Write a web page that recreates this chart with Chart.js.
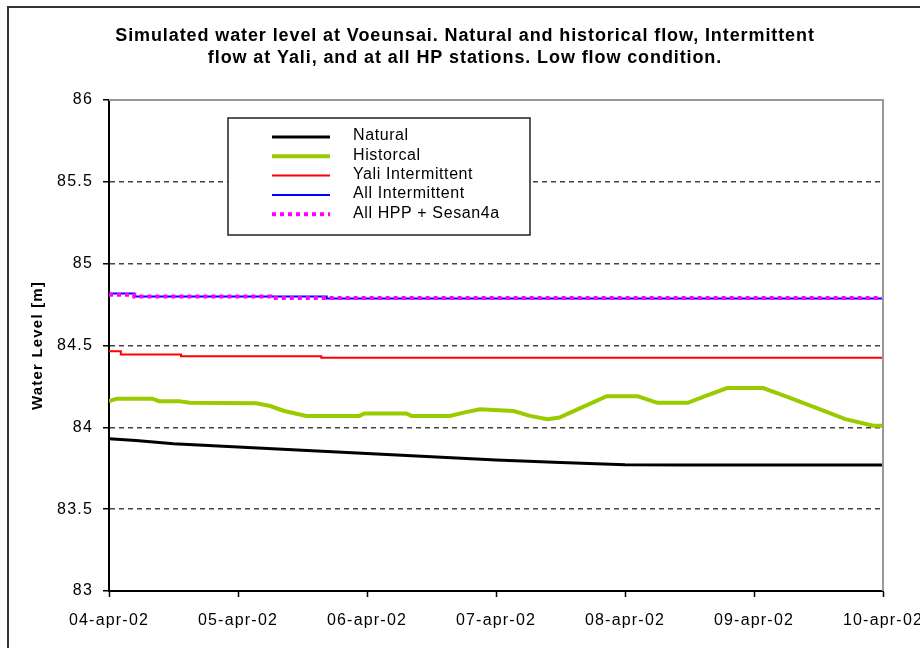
<!DOCTYPE html>
<html>
<head>
<meta charset="utf-8">
<script src="https://cdn.jsdelivr.net/npm/chart.js@4.4.0/dist/chart.umd.min.js"></script>
<style>
    html, body { margin: 0; padding: 0; background: #fff; }
    #wrap { width: 920px; height: 648px; position: relative; }
</style>
</head>
<body>
<div id="wrap"><canvas id="levelChart" width="920" height="648"></canvas></div>
<script>
// Tick labels (one per day, x in hours from 04-apr-02 00:00)
const dayLabels = ['04-apr-02', '05-apr-02', '06-apr-02', '07-apr-02', '08-apr-02', '09-apr-02', '10-apr-02'];
const levelTicks = [83, 83.5, 84, 84.5, 85, 85.5, 86];

const titleLines = [
    'Simulated water level at Voeunsai. Natural and historical flow, Intermittent',
    'flow at Yali, and at all HP stations. Low flow condition.'
];

// Natural
const naturalHours = [0, 5, 12, 24, 36, 48, 60, 72, 84, 96, 108, 120, 132, 144];
const naturalLevel = [83.93, 83.92, 83.90, 83.88, 83.86, 83.84, 83.82, 83.80, 83.785, 83.772, 83.77, 83.77, 83.77, 83.77];

// Historcal
const historicHours = [0, 1.5, 8, 9.3, 13, 15, 27.4, 30, 32.6, 36.7, 46.6, 47.5, 55.3, 56.3, 63.4, 66, 69, 75.3, 78.3, 81.6, 83.8, 88.5, 92.6, 98.4, 102, 107.7, 110.9, 115, 121.7, 126.7, 132.3, 137, 142.2, 144];
const historicLevel = [84.16, 84.175, 84.175, 84.16, 84.16, 84.15, 84.147, 84.13, 84.10, 84.07, 84.07, 84.085, 84.085, 84.07, 84.07, 84.09, 84.11, 84.10, 84.07, 84.05, 84.06, 84.13, 84.19, 84.19, 84.15, 84.15, 84.19, 84.24, 84.24, 84.18, 84.11, 84.05, 84.01, 84.01];

// Yali Intermittent
const yaliHours = [0, 2.2, 13.4, 39.5, 144];
const yaliLevel = [84.465, 84.445, 84.435, 84.425, 84.425];

// All Intermittent
const allIntHours = [0, 4.7, 40.5, 144];
const allIntLevel = [84.817, 84.80, 84.787, 84.787];

// All HPP + Sesan4a
const allHppHours = [0, 4.7, 30, 144];
const allHppLevel = [84.81, 84.80, 84.79, 84.787];

const FONT = 'Liberation Sans, Arial, sans-serif';

function toPoints(xs, ys) {
    return xs.map((x, i) => ({ x: x, y: ys[i] }));
}

function fmtLevel(v) {
    return Number.isInteger(v) ? String(v) : v.toFixed(1);
}

// frame, title, plot border and floating legend box
const decorPlugin = {
    id: 'decor',
    beforeDraw(chart) {
        const ctx = chart.ctx;
        ctx.save();
        ctx.fillStyle = '#fff';
        ctx.fillRect(0, 0, chart.width, chart.height);
        ctx.strokeStyle = '#333';
        ctx.lineWidth = 2;
        ctx.strokeRect(8, 7, chart.width + 20, chart.height + 20);

        ctx.fillStyle = '#000';
        ctx.font = 'bold 18px ' + FONT;
        ctx.letterSpacing = '0.9px';
        ctx.textAlign = 'center';
        ctx.textBaseline = 'middle';
        ctx.fillText(titleLines[0], 465, 36);
        ctx.fillText(titleLines[1], 465, 58);
        ctx.restore();
        // axis texts in the original are drawn wide
        ctx.letterSpacing = '1.2px';
    },
    afterDatasetsDraw(chart) {
        const ctx = chart.ctx;
        const a = chart.chartArea;
        ctx.save();
        ctx.strokeStyle = '#999';
        ctx.lineWidth = 2;
        ctx.beginPath();
        ctx.moveTo(a.left, a.top);
        ctx.lineTo(a.right, a.top);
        ctx.lineTo(a.right, a.bottom);
        ctx.stroke();

        // legend
        const box = { x: 228, y: 118, w: 302, h: 117 };
        ctx.fillStyle = '#fff';
        ctx.fillRect(box.x, box.y, box.w, box.h);
        ctx.strokeStyle = '#222';
        ctx.lineWidth = 1.5;
        ctx.strokeRect(box.x, box.y, box.w, box.h);
        ctx.font = '16px ' + FONT;
        ctx.letterSpacing = '0.6px';
        ctx.textAlign = 'left';
        ctx.textBaseline = 'middle';
        chart.data.datasets.forEach((ds, i) => {
            const y = 137 + i * 19.3;
            ctx.strokeStyle = ds.borderColor;
            ctx.lineWidth = ds.borderWidth;
            ctx.setLineDash(ds.borderDash || []);
            ctx.beginPath();
            ctx.moveTo(272, y);
            ctx.lineTo(330, y);
            ctx.stroke();
            ctx.setLineDash([]);
            ctx.fillStyle = '#000';
            ctx.fillText(ds.label, 353, y - 1);
        });
        ctx.restore();
    }
};

const ctxLevel = document.getElementById('levelChart').getContext('2d');
new Chart(ctxLevel, {
    type: 'line',
    data: {
        datasets: [{
            label: 'Natural',
            data: toPoints(naturalHours, naturalLevel),
            borderColor: '#000',
            borderWidth: 3,
            order: 5
        }, {
            label: 'Historcal',
            data: toPoints(historicHours, historicLevel),
            borderColor: '#99cc00',
            borderWidth: 4,
            order: 4
        }, {
            label: 'Yali Intermittent',
            data: toPoints(yaliHours, yaliLevel),
            borderColor: '#ff0000',
            borderWidth: 2,
            stepped: 'before',
            order: 3
        }, {
            label: 'All Intermittent',
            data: toPoints(allIntHours, allIntLevel),
            borderColor: '#0000ff',
            borderWidth: 2,
            stepped: 'before',
            order: 2
        }, {
            label: 'All HPP + Sesan4a',
            data: toPoints(allHppHours, allHppLevel),
            borderColor: '#ff00ff',
            borderWidth: 4,
            borderDash: [4, 4],
            stepped: 'before',
            order: 1
        }]
    },
    options: {
        responsive: false,
        animation: false,
        elements: { point: { radius: 0 }, line: { tension: 0, fill: false } },
        layout: { padding: { top: 100, right: 37, bottom: 0, left: 0 } },
        plugins: {
            legend: { display: false },
            title: { display: false },
            tooltip: { enabled: false }
        },
        scales: {
            x: {
                type: 'linear',
                min: 0,
                max: 144,
                afterBuildTicks(scale) {
                    scale.ticks = dayLabels.map((_, i) => ({ value: i * 24 }));
                },
                afterFit(scale) {
                    scale.height = 57;
                    scale.paddingLeft = 0;
                    scale.paddingRight = 0;
                },
                ticks: {
                    callback: (v) => dayLabels[Math.round(v / 24)],
                    color: '#000',
                    font: { family: FONT, size: 16 },
                    padding: 14,
                    maxRotation: 0,
                    autoSkip: false
                },
                grid: {
                    drawOnChartArea: false,
                    drawTicks: true,
                    tickLength: 6,
                    tickColor: '#000',
                    tickWidth: 1.5
                },
                border: { display: true, color: '#000', width: 2 }
            },
            y: {
                min: 83,
                max: 86,
                afterBuildTicks(scale) {
                    scale.ticks = levelTicks.map(v => ({ value: v }));
                },
                afterFit(scale) {
                    scale.width = 109;
                    scale.paddingTop = 0;
                    scale.paddingBottom = 0;
                },
                ticks: {
                    callback: (v) => fmtLevel(v),
                    color: '#000',
                    font: { family: FONT, size: 16 },
                    padding: 10
                },
                title: {
                    display: true,
                    text: 'Water Level [m]',
                    color: '#000',
                    font: { family: FONT, size: 15, weight: 'bold' },
                    padding: { top: 29, bottom: 0 }
                },
                grid: {
                    color: (c) => (c.tick && (c.tick.value === 83 || c.tick.value === 86)) ? 'rgba(0,0,0,0)' : '#444',
                    lineWidth: 1.5,
                    drawTicks: true,
                    tickLength: 6,
                    tickColor: '#000',
                    tickWidth: 1.5,
                    tickBorderDash: []
                },
                border: { display: true, color: '#000', width: 2, dash: [5, 4] }
            }
        }
    },
    plugins: [decorPlugin]
});
</script>
</body>
</html>
